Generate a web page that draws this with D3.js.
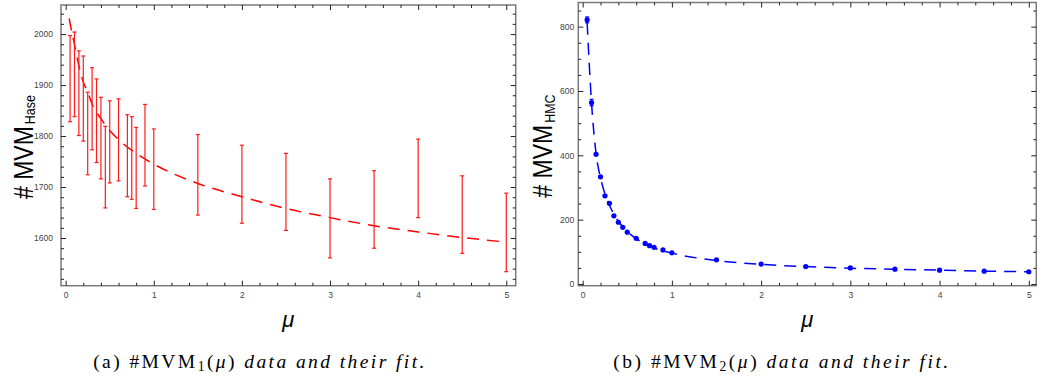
<!DOCTYPE html>
<html><head><meta charset="utf-8">
<script src="https://cdn.jsdelivr.net/npm/d3@7"></script>
<style>body{margin:0;background:#fff}svg{display:block}</style>
</head><body>
<svg id="c" width="1037" height="378"></svg>
<script>
// ---------- data ----------
const xTickLabels = [0, 1, 2, 3, 4, 5];
const haseYTicks = [1600, 1700, 1800, 1900, 2000];
const hmcYTicks = [0, 200, 400, 600, 800];

// Panel (a): #MVM_Hase error bars
const haseMu   = [0.05,0.1,0.15,0.2,0.25,0.3,0.35,0.4,0.45,0.5,0.6,0.7,0.75,0.8,0.9,1.0,1.5,2,2.5,3,3.5,4,4.5,5];
const haseLow  = [1828,1838,1801,1790,1724,1773,1748,1716,1659,1708,1712,1681,1676,1658,1702,1656,1645,1629,1615,1561,1580,1640,1570,1534];
const haseHigh = [1997,2004,1967,1957,1886,1934,1912,1876,1819,1869,1873,1842,1838,1817,1862,1814,1803,1782,1766,1716,1732,1794,1722,1688];
// fitted curve
const haseFitMu  = [0.04,0.05,0.1,0.15,0.2,0.25,0.3,0.4,0.5,0.6,0.8,1.0,1.5,2,2.5,3,3.5,4,4.5,5];
const haseFitVal = [2031,2021,1980,1938,1906,1886,1863,1834,1811,1793,1766,1745,1707,1681,1658,1640,1624,1612,1601,1592];

// Panel (b): #MVM_HMC points
const hmcMu  = [0.05,0.1,0.15,0.2,0.25,0.3,0.35,0.4,0.45,0.5,0.6,0.7,0.75,0.8,0.9,1.0,1.5,2,2.5,3,3.5,4,4.5,5];
const hmcVal = [821,564,403,333,274,251,212,192,176,161,142,126,119,114,106,97,75,62,54,50,46,43,40,38];
const hmcErr = [9,10,3,2,2,2,2,2,2,2,1,1,1,1,1,1,1,1,1,1,1,1,1,1];
const hmcFitMu  = [0.05,0.1,0.15,0.2,0.25,0.3,0.4,0.5,0.6,0.8,1.0,1.5,2,2.5,3,3.5,4,4.5,5];
const hmcFitVal = [812,560,405,330,280,245,195,163,141,112,96,73,61,54,49,46,43,40,38];

// ---------- drawing ----------
const svg = d3.select("#c");

function panel(cfg) {
  const g = svg.append("g");
  const x = d3.scaleLinear().domain(cfg.xDomain).range([cfg.left, cfg.right]);
  const y = d3.scaleLinear().domain(cfg.yDomain).range([cfg.bottom, cfg.top]);
  const xMinor = d3.range(0, 5.001, 0.2).filter(v => Math.abs(v - Math.round(v)) > 1e-6);
  const yMinor = d3.range(cfg.yMinorStart, cfg.yDomain[1], cfg.yMinorStep)
    .filter(v => !cfg.yTicks.includes(v));

  // frame
  g.append("rect").attr("x", cfg.left).attr("y", cfg.top)
    .attr("width", cfg.right - cfg.left).attr("height", cfg.bottom - cfg.top)
    .attr("fill", "none").attr("stroke", "#7a7a7a").attr("stroke-width", 1.5);

  const styleAxis = sel => {
    sel.select(".domain").remove();
    sel.selectAll(".tick line").attr("stroke", "#222").attr("stroke-width", 1);
    sel.selectAll("text").attr("fill", "#444")
      .style("font-family", "'Liberation Sans', Arial, sans-serif").style("font-size", "8.5px");
  };
  const blank = () => "";

  // major axes
  g.append("g").attr("transform", `translate(0,${cfg.bottom})`)
    .call(d3.axisBottom(x).tickValues(xTickLabels).tickFormat(d3.format("d")).tickSize(-5).tickPadding(6)).call(styleAxis);
  g.append("g").attr("transform", `translate(0,${cfg.top})`)
    .call(d3.axisTop(x).tickValues(xTickLabels).tickFormat(blank).tickSize(-5)).call(styleAxis);
  g.append("g").attr("transform", `translate(${cfg.left},0)`)
    .call(d3.axisLeft(y).tickValues(cfg.yTicks).tickFormat(d3.format("d")).tickSize(-5).tickPadding(cfg.yPad)).call(styleAxis);
  g.append("g").attr("transform", `translate(${cfg.right},0)`)
    .call(d3.axisRight(y).tickValues(cfg.yTicks).tickFormat(blank).tickSize(-5)).call(styleAxis);
  // minor axes
  g.append("g").attr("transform", `translate(0,${cfg.bottom})`)
    .call(d3.axisBottom(x).tickValues(xMinor).tickFormat(blank).tickSize(-3)).call(styleAxis);
  g.append("g").attr("transform", `translate(0,${cfg.top})`)
    .call(d3.axisTop(x).tickValues(xMinor).tickFormat(blank).tickSize(-3)).call(styleAxis);
  g.append("g").attr("transform", `translate(${cfg.left},0)`)
    .call(d3.axisLeft(y).tickValues(yMinor).tickFormat(blank).tickSize(-3)).call(styleAxis);
  g.append("g").attr("transform", `translate(${cfg.right},0)`)
    .call(d3.axisRight(y).tickValues(yMinor).tickFormat(blank).tickSize(-3)).call(styleAxis);

  // y label
  const lab = g.append("text")
    .attr("transform", `translate(${cfg.left - cfg.labOff},${cfg.labY}) scale(1.22,1) rotate(-90)`)
    .attr("text-anchor", "middle")
    .style("font-family", "'Liberation Sans', Arial, sans-serif").attr("fill", "#000");
  lab.append("tspan").style("font-size", "23px").text("# MVM");
  lab.append("tspan").style("font-size", "12.5px").attr("dx", 2).attr("dy", 2).text(cfg.sub);

  // x label
  g.append("text").attr("x", (cfg.left + cfg.right) / 2).attr("y", 327)
    .attr("text-anchor", "middle").style("font-family", "'Liberation Sans', Arial, sans-serif")
    .style("font-style", "italic").style("font-size", "22px").text("μ");

  // caption
  const cap = svg.append("text").attr("x", cfg.capX).attr("y", 368).attr("text-anchor", "middle")
    .style("font-family", "'Liberation Serif', 'Times New Roman', serif").style("font-size", "17px");
  cap.append("tspan").text(cfg.capLead + " #MVM");
  cap.append("tspan").attr("class", "sub").style("font-size", "12px").attr("dy", 3).text(cfg.capIdx);
  cap.append("tspan").attr("dy", -3).text("(");
  cap.append("tspan").style("font-style", "italic").text("μ");
  cap.append("tspan").text(")  ");
  cap.append("tspan").style("font-style", "italic").text("data and their fit.");
  const w0 = cap.node().getComputedTextLength();
  const fs = Math.min(19.5, 17 * cfg.capW / w0);
  cap.style("font-size", fs + "px");
  cap.select(".sub").style("font-size", (fs * 0.7) + "px");
  const w = cap.node().getComputedTextLength();
  const n = cap.text().length;
  cap.attr("letter-spacing", Math.max(0, (cfg.capW - w) / n).toFixed(3) + "px");

  return {g, x, y};
}

// Panel (a)
const A = panel({left: 61, right: 515.7, top: 5, bottom: 285.7,
  xDomain: [-0.053, 5.107], yDomain: [1506.5, 2057],
  yTicks: haseYTicks, yMinorStart: 1520, yMinorStep: 20, yPad: 8,
  labOff: 28, labY: 147, sub: "Hase",
  capX: 260, capW: 336, capLead: "(a)", capIdx: "1"});

const redLine = d3.line().x((d, i) => A.x(haseFitMu[i])).y(d => A.y(d)).curve(d3.curveMonotoneX);
A.g.append("path").datum(haseFitVal).attr("d", redLine)
  .attr("fill", "none").attr("stroke", "#ff0000").attr("stroke-width", 1.5).attr("stroke-dasharray", "12,8");

const eb = A.g.append("g").attr("stroke", "#ff1a1a").attr("stroke-width", 1.2);
haseMu.forEach((m, i) => {
  const cx = A.x(m);
  eb.append("line").attr("x1", cx).attr("x2", cx).attr("y1", A.y(haseLow[i])).attr("y2", A.y(haseHigh[i]));
  eb.append("line").attr("x1", cx - 2).attr("x2", cx + 2).attr("y1", A.y(haseLow[i])).attr("y2", A.y(haseLow[i]));
  eb.append("line").attr("x1", cx - 2).attr("x2", cx + 2).attr("y1", A.y(haseHigh[i])).attr("y2", A.y(haseHigh[i]));
});

// Panel (b)
const B = panel({left: 578.3, right: 1036.3, top: 2.5, bottom: 285.7,
  xDomain: [-0.049, 5.084], yDomain: [-5.3, 875],
  yTicks: hmcYTicks, yMinorStart: 0, yMinorStep: 50, yPad: 4,
  labOff: 26, labY: 146, sub: "HMC",
  capX: 782, capW: 340, capLead: "(b)", capIdx: "2"});

const blueLine = d3.line().x((d, i) => B.x(hmcFitMu[i])).y(d => B.y(d)).curve(d3.curveMonotoneX);
B.g.append("path").datum(hmcFitVal).attr("d", blueLine)
  .attr("fill", "none").attr("stroke", "#0000ff").attr("stroke-width", 1.5).attr("stroke-dasharray", "12,8");

const bb = B.g.append("g").attr("stroke", "#0000ff").attr("stroke-width", 1.2);
hmcMu.forEach((m, i) => {
  const cx = B.x(m), lo = B.y(hmcVal[i] - hmcErr[i]), hi = B.y(hmcVal[i] + hmcErr[i]);
  bb.append("line").attr("x1", cx).attr("x2", cx).attr("y1", lo).attr("y2", hi);
  bb.append("line").attr("x1", cx - 2).attr("x2", cx + 2).attr("y1", lo).attr("y2", lo);
  bb.append("line").attr("x1", cx - 2).attr("x2", cx + 2).attr("y1", hi).attr("y2", hi);
});
B.g.append("g").selectAll("circle").data(hmcVal).join("circle")
  .attr("cx", (d, i) => B.x(hmcMu[i])).attr("cy", d => B.y(d)).attr("r", 2.6).attr("fill", "#0000ff");
</script>
</body></html>
